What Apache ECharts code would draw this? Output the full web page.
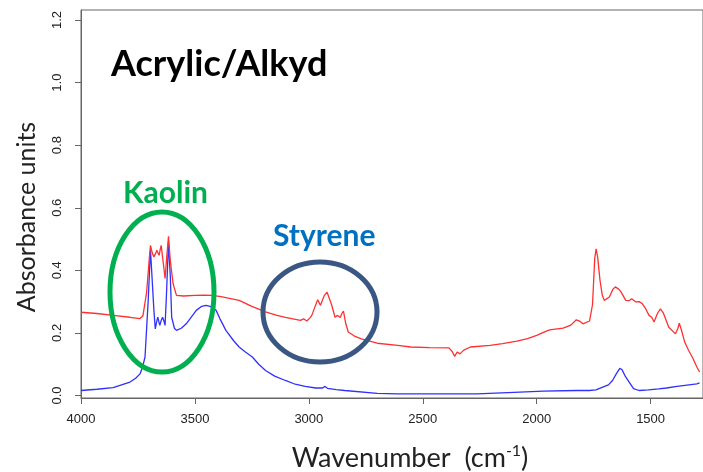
<!DOCTYPE html>
<html>
<head>
<meta charset="utf-8">
<script src="https://cdn.jsdelivr.net/npm/echarts@6/dist/echarts.min.js"></script>
<style>
html,body{margin:0;padding:0;background:#fff;}
#chart{width:703px;height:472px;}
</style>
</head>
<body>
<div id="chart"></div>
<script>
// Sample spectrum (red) - Acrylic/Alkyd paint
const redWn = [4000,3930,3859,3785,3741,3728,3712,3700,3695,3687,3680,3672,3667,3662,3657,3652,3648,3640,3631,3624,3616,3608,3596,3581,3550,3500,3460,3422,3380,3306,3250,3190,3140,3103,3037,3023,3009,2995,2987,2975,2961,2949,2940,2932,2920,2914,2900,2885,2874,2862,2855,2848,2838,2827,2800,2769,2700,2610,2553,2470,2385,2370,2360,2349,2337,2320,2291,2204,2150,2087,2040,2000,1960,1943,1884,1850,1826,1812,1797,1768,1755,1745,1739,1732,1722,1712,1703,1681,1665,1655,1640,1630,1609,1595,1583,1565,1550,1536,1520,1507,1495,1485,1470,1457,1445,1420,1391,1380,1374,1365,1350,1333,1315,1297,1285];
const redAbs = [0.266,0.262,0.256,0.250,0.246,0.255,0.330,0.440,0.480,0.455,0.443,0.455,0.464,0.455,0.448,0.468,0.480,0.430,0.374,0.440,0.509,0.430,0.358,0.320,0.318,0.320,0.321,0.320,0.315,0.304,0.285,0.267,0.256,0.250,0.240,0.245,0.238,0.248,0.256,0.280,0.306,0.288,0.305,0.320,0.330,0.336,0.290,0.250,0.256,0.249,0.262,0.270,0.230,0.203,0.190,0.181,0.167,0.160,0.155,0.153,0.152,0.140,0.125,0.139,0.133,0.145,0.155,0.160,0.166,0.174,0.182,0.192,0.205,0.210,0.215,0.225,0.242,0.238,0.229,0.238,0.290,0.440,0.469,0.440,0.368,0.320,0.304,0.315,0.340,0.347,0.340,0.331,0.304,0.303,0.309,0.299,0.300,0.293,0.275,0.256,0.250,0.235,0.262,0.277,0.265,0.218,0.197,0.215,0.231,0.210,0.170,0.144,0.120,0.091,0.075];

// Reference spectrum (blue)
const blueWn = [4000,3930,3859,3785,3760,3741,3730,3719,3705,3698,3695,3690,3680,3674,3668,3663,3658,3654,3648,3642,3636,3631,3625,3616,3608,3602,3590,3581,3560,3538,3494,3470,3451,3430,3407,3390,3364,3330,3306,3280,3248,3220,3190,3150,3103,3060,3016,2970,2940,2929,2918,2880,2842,2700,2610,2450,2262,2100,1971,1826,1768,1740,1710,1685,1667,1650,1635,1625,1610,1594,1575,1551,1510,1464,1430,1384,1340,1297,1285];
const blueAbs = [0.016,0.020,0.025,0.043,0.055,0.069,0.090,0.123,0.304,0.420,0.464,0.400,0.272,0.213,0.235,0.250,0.235,0.224,0.240,0.250,0.238,0.224,0.320,0.490,0.380,0.250,0.215,0.208,0.215,0.229,0.272,0.285,0.288,0.284,0.272,0.245,0.208,0.175,0.155,0.140,0.123,0.100,0.080,0.062,0.048,0.036,0.029,0.024,0.024,0.029,0.023,0.019,0.016,0.007,0.005,0.005,0.005,0.010,0.014,0.016,0.016,0.018,0.027,0.034,0.048,0.070,0.087,0.082,0.060,0.043,0.022,0.016,0.018,0.021,0.024,0.029,0.033,0.037,0.040];

const xTicks = [4000,3500,3000,2500,2000,1500];
const yTicks = [0,0.2,0.4,0.6,0.8,1.0,1.2];

const titleText = 'Acrylic/Alkyd';
const kaolinText = 'Kaolin';
const styreneText = 'Styrene';
const xTitle = 'Wavenumber  (cm{sup|-1})';
const yTitle = 'Absorbance units';

const chart = echarts.init(document.getElementById('chart'), null, {renderer:'canvas'});
const zip = (a,b) => a.map((v,i)=>[v,b[i]]);
const tickFont = '"Liberation Sans", Arial, sans-serif';
const calFont = 'Lato, "Open Sans", sans-serif';

chart.setOption({
  animation:false,
  backgroundColor:'#fff',
  grid:{left:81, top:10, right:-5, bottom:74, show:true, borderColor:'#666', borderWidth:1, containLabel:false},
  xAxis:{
    type:'value', inverse:true, min:1270, max:4000,
    axisLine:{show:true, onZero:false, lineStyle:{color:'#666', width:1}},
    axisTick:{show:true, length:6, customValues:xTicks, lineStyle:{color:'#666'}},
    axisLabel:{customValues:xTicks, margin:15, fontFamily:tickFont, fontSize:13, color:'#222',
      formatter:v=>String(v)},
    splitLine:{show:false}
  },
  yAxis:{
    type:'value', min:-0.008, max:1.232,
    axisLine:{show:true, onZero:false, lineStyle:{color:'#666', width:1}},
    axisTick:{show:true, length:6, customValues:yTicks, lineStyle:{color:'#666'}},
    axisLabel:{customValues:yTicks, rotate:90, margin:17, fontFamily:tickFont, fontSize:13, color:'#222',
      formatter:v=>v.toFixed(1)},
    splitLine:{show:false}
  },
  series:[
    {type:'line', data:zip(redWn,redAbs), showSymbol:false, symbol:'none', lineStyle:{color:'#ff3030', width:1.3}, z:3},
    {type:'line', data:zip(blueWn,blueAbs), showSymbol:false, symbol:'none', lineStyle:{color:'#3030ff', width:1.3}, z:2}
  ],
  graphic:[
    {type:'text', left:111, top:46, style:{text:titleText, font:'bold 36px '+calFont, fill:'#000'}, z:10},
    {type:'text', left:123, top:178, style:{text:kaolinText, font:'bold 30px '+calFont, fill:'#00b050'}, z:10},
    {type:'text', left:273, top:221, style:{text:styreneText, font:'bold 30px '+calFont, fill:'#0070c0'}, z:10},
    {type:'ellipse', shape:{cx:162, cy:292, rx:52, ry:80}, style:{fill:'none', stroke:'#00b050', lineWidth:5}, z:10},
    {type:'ellipse', shape:{cx:320, cy:312, rx:57, ry:50}, style:{fill:'none', stroke:'#3a5683', lineWidth:5}, z:10},
    {type:'text', x:410, y:458, style:{text:xTitle, align:'center', verticalAlign:'middle',
      font:'27px '+calFont, fill:'#222',
      rich:{sup:{fontFamily:calFont, fontSize:16, verticalAlign:'top', padding:[0,0,14,0], fill:'#222'}}}, z:10},
    {type:'text', x:27, y:217, rotation:Math.PI/2, style:{text:yTitle, align:'center', verticalAlign:'middle',
      font:'25px '+calFont, fill:'#222'}, z:10}
  ]
});
</script>
</body>
</html>
